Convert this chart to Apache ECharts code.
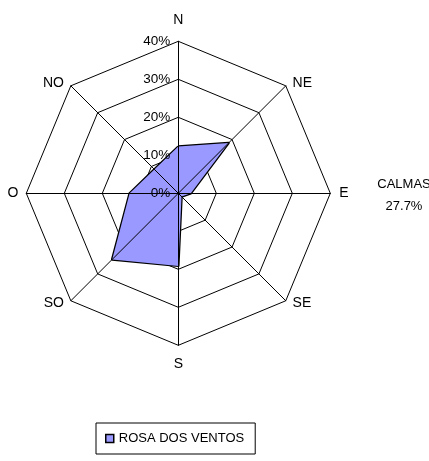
<!DOCTYPE html>
<html><head><meta charset="utf-8">
<script src="https://cdn.jsdelivr.net/npm/echarts@6/dist/echarts.min.js"></script>
<style>html,body{margin:0;padding:0;background:#fff}#c{width:429px;height:461px}</style>
</head><body><div id="c"></div>
<script>
const directions = ['N', 'NE', 'E', 'SE', 'S', 'SO', 'O', 'NO'];
const roseValues = [12.3, 18.7, 3.3, 1.2, 19.1, 24.6, 12.8, 8.9];
const seriesName = 'ROSA DOS VENTOS';
const axisMin = 0;
const axisMax = 40;
const axisSplits = 4;
const calmLabel = 'CALMAS';
const calmValue = '27.7%';

// ECharts radar goes counter-clockwise; reorder so compass runs clockwise
const order = [0, 7, 6, 5, 4, 3, 2, 1];
const FONT = 'Liberation Sans, Arial, sans-serif';
const center = [178.3, 193.3];
const radius = 152;

const indicatorsMain = order.map(i => ({ name: directions[i], min: axisMin, max: axisMax }));
const indicatorsTop = order.map((i, k) => ({
  name: '', min: axisMin, max: axisMax,
  axisLabel: { show: k === 0 }
}));
const seriesData = order.map(i => roseValues[i]);

const nameStyle = (pad) => ({ color: '#000', fontFamily: FONT, fontSize: 14, padding: pad });
const richKey = { N: 'n', NE: 'r', SE: 'r', E: 'e', S: 's', SO: 'l', NO: 'l', O: 'o' };

const chart = echarts.init(document.getElementById('c'), null, { renderer: 'canvas' });
chart.setOption({
  backgroundColor: '#fff',
  animation: false,
  radar: [
    {
      center: center, radius: radius, startAngle: 90, shape: 'polygon',
      splitNumber: axisSplits, z: 0,
      indicator: indicatorsMain,
      axisName: {
        color: '#000', fontFamily: FONT, fontSize: 14,
        formatter: function (name) { return '{' + richKey[name] + '|' + name + '}'; },
        rich: {
          n: nameStyle([0, 0, 10, 0]),
          s: nameStyle([8, 0, 0, 0]),
          e: nameStyle([0, 0, 0, 5]),
          o: nameStyle([0, 4, 0, 0]),
          r: nameStyle([0, 0, 0, 4]),
          l: nameStyle([0, 4, 0, 0])
        }
      },
      nameGap: 4,
      splitLine: { lineStyle: { color: '#000', width: 1 } },
      splitArea: { show: false },
      axisLine: { show: false },
      axisTick: { show: false },
      axisLabel: { show: false }
    },
    {
      center: center, radius: radius, startAngle: 90, shape: 'polygon',
      splitNumber: axisSplits, z: 10,
      indicator: indicatorsTop,
      axisName: { show: false },
      splitLine: { show: false },
      splitArea: { show: false },
      axisLine: { show: true, lineStyle: { color: '#000', width: 1 } },
      axisTick: { show: false },
      axisLabel: { show: true, formatter: '{value}%', color: '#000', fontFamily: FONT, fontSize: 13.5, margin: 8, showMinLabel: true }
    }
  ],
  legend: {
    data: [{ name: seriesName, icon: 'rect' }],
    left: 96, top: 423,
    itemWidth: 8, itemHeight: 8,
    padding: [9, 11, 9, 9],
    borderColor: '#000', borderWidth: 1,
    textStyle: { color: '#000', fontFamily: FONT, fontSize: 13 },
    itemStyle: { color: '#9999FF', borderColor: '#000', borderWidth: 1.5 }
  },
  graphic: [
    { type: 'text', x: 404, y: 184, style: { text: calmLabel, fill: '#000', font: '13px ' + FONT, textAlign: 'center', textVerticalAlign: 'middle' } },
    { type: 'text', x: 404, y: 206, style: { text: calmValue, fill: '#000', font: '13px ' + FONT, textAlign: 'center', textVerticalAlign: 'middle' } }
  ],
  series: [{
    type: 'radar', name: seriesName, radarIndex: 0, z: 2,
    symbol: 'none',
    lineStyle: { color: '#000', width: 2.5 },
    areaStyle: { color: '#9999FF', opacity: 1 },
    itemStyle: { color: '#9999FF', borderColor: '#000' },
    data: [{ value: seriesData, name: seriesName }]
  }]
});
</script></body></html>
